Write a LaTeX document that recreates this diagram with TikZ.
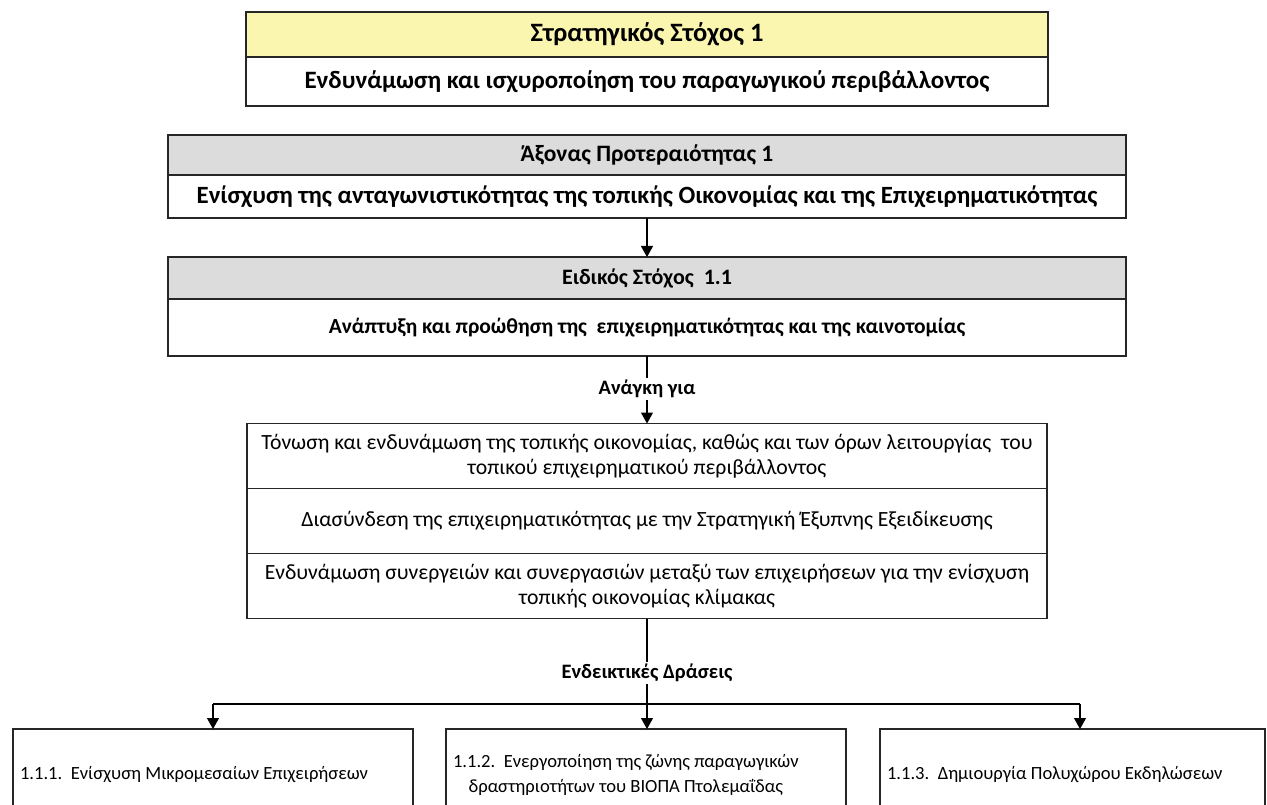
\documentclass[tikz,border=0pt]{standalone}
\usepackage{fontspec}
\setmainfont{Carlito}
\usepackage{xcolor}
\usepackage{tikz}
\usetikzlibrary{arrows.meta, positioning}

\definecolor{goalyellow}{RGB}{250,246,176}
\definecolor{headgray}{RGB}{220,220,220}

\begin{document}
\begin{tikzpicture}[
    x=1pt, y=-1pt,
    box/.style={rectangle, draw=black!85, line width=1.2pt, fill=white, align=center,
                inner sep=0pt, outer sep=0pt},
    goalbox/.style={box, line width=2.4pt, minimum width=802pt, font=\fontsize{25}{29}\selectfont\bfseries},
    axisbox/.style={box, minimum width=958pt, font=\fontsize{24.8}{28}\selectfont\bfseries},
    needbox/.style={box, minimum width=800pt, minimum height=65pt, font=\fontsize{21.7}{25}\selectfont},
    actbox/.style={box, minimum height=92pt, inner xsep=7pt, align=flush left, font=\fontsize{18.6}{25}\selectfont},
    tag/.style={font=\fontsize{20.5}{24}\selectfont\bfseries, inner sep=2pt},
    arrow/.style={-{Triangle[length=11pt, width=12pt]}, line width=1.2pt},
    link/.style={line width=1.2pt}
]
\useasboundingbox (0,0) rectangle (1267,805);
\clip (0,0) rectangle (1267,805);

% Nodes
\node[goalbox, fill=goalyellow, minimum height=45pt, font=\fontsize{26.5}{30}\selectfont\bfseries] (goal) at (647,34.5) {Στρατηγικός Στόχος 1};
\node[goalbox, minimum height=49pt, below=0pt of goal] (goaltext) {Ενδυνάμωση και ισχυροποίηση του παραγωγικού περιβάλλοντος};

\node[axisbox, fill=headgray, minimum height=40pt, font=\fontsize{23.5}{27}\selectfont\bfseries] (axis) at (647,155) {Άξονας Προτεραιότητας 1};
\node[axisbox, minimum height=43pt, below=0pt of axis] (axistext) {Ενίσχυση της ανταγωνιστικότητας της τοπικής Οικονομίας και της Επιχειρηματικότητας};

\node[axisbox, fill=headgray, minimum height=42pt, font=\fontsize{22}{26}\selectfont\bfseries] (spec) at (647,278) {Ειδικός Στόχος\ \ 1.1};
\node[axisbox, minimum height=57pt, below=0pt of spec, font=\fontsize{21.5}{25}\selectfont\bfseries] (spectext) {Ανάπτυξη και προώθηση της\ \ επιχειρηματικότητας και της καινοτομίας};

\node[tag] (needlbl) at (647,389) {Ανάγκη για};
\node[needbox] (need1) at (647,456) {Τόνωση και ενδυνάμωση της τοπικής οικονομίας, καθώς και των όρων λειτουργίας\ \ του\\τοπικού επιχειρηματικού περιβάλλοντος};
\node[needbox, below=0pt of need1] (need2) {Διασύνδεση της επιχειρηματικότητας με την Στρατηγική Έξυπνης Εξειδίκευσης};
\node[needbox, below=0pt of need2] (need3) {Ενδυνάμωση συνεργειών και συνεργασιών μεταξύ των επιχειρήσεων για την ενίσχυση\\τοπικής οικονομίας κλίμακας};

\node[tag] (actlbl) at (647,673) {Ενδεικτικές Δράσεις};
\node[actbox, text width=386pt] (act1) at (213,775) {1.1.1.\ \ Ενίσχυση Μικρομεσαίων Επιχειρήσεων};
\node[actbox, text width=386pt] (act2) at (646,775) {\begin{tabular}{@{}c@{}}1.1.2.\ \ Ενεργοποίηση της ζώνης παραγωγικών\\δραστηριοτήτων του ΒΙΟΠΑ Πτολεμαΐδας\end{tabular}};
\node[actbox, text width=371pt] (act3) at (1072.5,775) {1.1.3.\ \ Δημιουργία Πολυχώρου Εκδηλώσεων};

\coordinate (fanleft) at (213,704);
\coordinate (fanright) at (1080,704);

% Arrows
\draw[arrow] (axistext.south) -- (spec.north);
\draw[link] (spectext.south) -- (needlbl.north);
\draw[arrow] (needlbl.south) -- (need1.north);
\draw[link] (need3.south) -- (actlbl.north);
\draw[arrow] (actlbl.south) -- (actlbl.south |- act2.north);
\draw[link] (fanleft) -- (fanright);
\draw[arrow] (fanleft) -- (fanleft |- act1.north);
\draw[arrow] (fanright) -- (fanright |- act3.north);

\end{tikzpicture}
\end{document}
